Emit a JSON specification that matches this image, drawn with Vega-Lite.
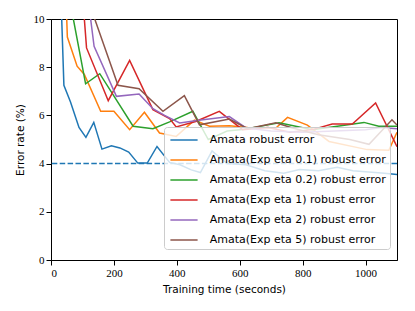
{
  "$schema": "https://vega.github.io/schema/vega-lite/v6.json",
  "autosize": "none",
  "width": 346,
  "height": 241,
  "padding": {"left": 51, "top": 19, "right": 18, "bottom": 51},
  "background": "white",
  "config": {
    "view": {"stroke": "black", "strokeWidth": 1},
    "axis": {
      "grid": false,
      "domainColor": "black",
      "tickColor": "black",
      "tickSize": 5,
      "labelFont": "Liberation Serif",
      "labelFontSize": 11,
      "labelColor": "black",
      "titleFont": "DejaVu Sans",
      "titleFontSize": 10.5,
      "titleFontWeight": "normal",
      "titleColor": "black"
    },
    "legend": {
      "orient": "none",
      "legendX": 113,
      "legendY": 108,
      "padding": 4,
      "fillColor": "rgba(255,255,255,0.8)",
      "strokeColor": "#cccccc",
      "cornerRadius": 3,
      "labelFont": "DejaVu Sans",
      "labelFontSize": 11,
      "labelColor": "black",
      "symbolType": "M-1.7,0L1.7,0",
      "symbolSize": 256,
      "symbolStrokeWidth": 1.5,
      "symbolOffset": 7,
      "labelOffset": 16.7,
      "rowPadding": 6,
      "labelLimit": 300
    }
  },
  "datasets": {
    "runs": [
      {"series": "Amata robust error", "t": 30, "err": 11.6},
      {"series": "Amata robust error", "t": 41, "err": 7.25},
      {"series": "Amata robust error", "t": 62, "err": 6.56},
      {"series": "Amata robust error", "t": 89, "err": 5.5},
      {"series": "Amata robust error", "t": 111, "err": 5.09},
      {"series": "Amata robust error", "t": 136, "err": 5.71},
      {"series": "Amata robust error", "t": 162, "err": 4.6},
      {"series": "Amata robust error", "t": 192, "err": 4.74},
      {"series": "Amata robust error", "t": 219, "err": 4.65},
      {"series": "Amata robust error", "t": 247, "err": 4.48},
      {"series": "Amata robust error", "t": 276, "err": 4.02},
      {"series": "Amata robust error", "t": 306, "err": 4.02},
      {"series": "Amata robust error", "t": 337, "err": 4.71},
      {"series": "Amata robust error", "t": 377, "err": 4.05},
      {"series": "Amata robust error", "t": 410, "err": 3.95},
      {"series": "Amata robust error", "t": 446, "err": 3.74},
      {"series": "Amata robust error", "t": 475, "err": 3.63},
      {"series": "Amata robust error", "t": 512, "err": 4.53},
      {"series": "Amata robust error", "t": 560, "err": 4.0},
      {"series": "Amata robust error", "t": 620, "err": 3.95},
      {"series": "Amata robust error", "t": 680, "err": 3.7},
      {"series": "Amata robust error", "t": 740, "err": 3.6},
      {"series": "Amata robust error", "t": 790, "err": 3.75},
      {"series": "Amata robust error", "t": 850, "err": 3.7},
      {"series": "Amata robust error", "t": 910, "err": 3.85},
      {"series": "Amata robust error", "t": 960, "err": 3.7},
      {"series": "Amata robust error", "t": 1010, "err": 3.65},
      {"series": "Amata robust error", "t": 1060, "err": 3.6},
      {"series": "Amata robust error", "t": 1100, "err": 3.55},

      {"series": "Amata(Exp eta 0.1) robust error", "t": 30, "err": 17.5},
      {"series": "Amata(Exp eta 0.1) robust error", "t": 52, "err": 9.25},
      {"series": "Amata(Exp eta 0.1) robust error", "t": 83, "err": 8.04},
      {"series": "Amata(Exp eta 0.1) robust error", "t": 106, "err": 7.7},
      {"series": "Amata(Exp eta 0.1) robust error", "t": 158, "err": 6.17},
      {"series": "Amata(Exp eta 0.1) robust error", "t": 200, "err": 6.17},
      {"series": "Amata(Exp eta 0.1) robust error", "t": 250, "err": 5.41},
      {"series": "Amata(Exp eta 0.1) robust error", "t": 297, "err": 6.13},
      {"series": "Amata(Exp eta 0.1) robust error", "t": 345, "err": 5.27},
      {"series": "Amata(Exp eta 0.1) robust error", "t": 398, "err": 5.13},
      {"series": "Amata(Exp eta 0.1) robust error", "t": 456, "err": 5.8},
      {"series": "Amata(Exp eta 0.1) robust error", "t": 504, "err": 5.55},
      {"series": "Amata(Exp eta 0.1) robust error", "t": 567, "err": 5.57},
      {"series": "Amata(Exp eta 0.1) robust error", "t": 625, "err": 5.5},
      {"series": "Amata(Exp eta 0.1) robust error", "t": 715, "err": 5.48},
      {"series": "Amata(Exp eta 0.1) robust error", "t": 752, "err": 5.92},
      {"series": "Amata(Exp eta 0.1) robust error", "t": 815, "err": 5.6},
      {"series": "Amata(Exp eta 0.1) robust error", "t": 884, "err": 4.92},
      {"series": "Amata(Exp eta 0.1) robust error", "t": 1005, "err": 4.58},
      {"series": "Amata(Exp eta 0.1) robust error", "t": 1074, "err": 4.55},
      {"series": "Amata(Exp eta 0.1) robust error", "t": 1100, "err": 5.3},

      {"series": "Amata(Exp eta 0.2) robust error", "t": 50, "err": 11.45},
      {"series": "Amata(Exp eta 0.2) robust error", "t": 110, "err": 7.31},
      {"series": "Amata(Exp eta 0.2) robust error", "t": 155, "err": 7.73},
      {"series": "Amata(Exp eta 0.2) robust error", "t": 261, "err": 5.55},
      {"series": "Amata(Exp eta 0.2) robust error", "t": 324, "err": 5.45},
      {"series": "Amata(Exp eta 0.2) robust error", "t": 377, "err": 5.73},
      {"series": "Amata(Exp eta 0.2) robust error", "t": 451, "err": 6.17},
      {"series": "Amata(Exp eta 0.2) robust error", "t": 500, "err": 5.0},
      {"series": "Amata(Exp eta 0.2) robust error", "t": 560, "err": 5.35},
      {"series": "Amata(Exp eta 0.2) robust error", "t": 609, "err": 5.41},
      {"series": "Amata(Exp eta 0.2) robust error", "t": 725, "err": 5.69},
      {"series": "Amata(Exp eta 0.2) robust error", "t": 831, "err": 5.41},
      {"series": "Amata(Exp eta 0.2) robust error", "t": 995, "err": 5.71},
      {"series": "Amata(Exp eta 0.2) robust error", "t": 1042, "err": 5.55},
      {"series": "Amata(Exp eta 0.2) robust error", "t": 1100, "err": 5.55},

      {"series": "Amata(Exp eta 1) robust error", "t": 80, "err": 14.46},
      {"series": "Amata(Exp eta 1) robust error", "t": 113, "err": 8.8},
      {"series": "Amata(Exp eta 1) robust error", "t": 182, "err": 6.61},
      {"series": "Amata(Exp eta 1) robust error", "t": 250, "err": 8.28},
      {"series": "Amata(Exp eta 1) robust error", "t": 324, "err": 6.24},
      {"series": "Amata(Exp eta 1) robust error", "t": 377, "err": 5.87},
      {"series": "Amata(Exp eta 1) robust error", "t": 398, "err": 5.52},
      {"series": "Amata(Exp eta 1) robust error", "t": 460, "err": 5.75},
      {"series": "Amata(Exp eta 1) robust error", "t": 535, "err": 6.17},
      {"series": "Amata(Exp eta 1) robust error", "t": 609, "err": 5.41},
      {"series": "Amata(Exp eta 1) robust error", "t": 690, "err": 5.5},
      {"series": "Amata(Exp eta 1) robust error", "t": 760, "err": 5.3},
      {"series": "Amata(Exp eta 1) robust error", "t": 831, "err": 5.41},
      {"series": "Amata(Exp eta 1) robust error", "t": 894, "err": 5.64},
      {"series": "Amata(Exp eta 1) robust error", "t": 958, "err": 5.64},
      {"series": "Amata(Exp eta 1) robust error", "t": 1032, "err": 6.52},
      {"series": "Amata(Exp eta 1) robust error", "t": 1100, "err": 4.7},

      {"series": "Amata(Exp eta 2) robust error", "t": 100, "err": 12.67},
      {"series": "Amata(Exp eta 2) robust error", "t": 137, "err": 8.87},
      {"series": "Amata(Exp eta 2) robust error", "t": 208, "err": 6.79},
      {"series": "Amata(Exp eta 2) robust error", "t": 280, "err": 6.89},
      {"series": "Amata(Exp eta 2) robust error", "t": 324, "err": 6.28},
      {"series": "Amata(Exp eta 2) robust error", "t": 361, "err": 6.0},
      {"series": "Amata(Exp eta 2) robust error", "t": 409, "err": 5.69},
      {"series": "Amata(Exp eta 2) robust error", "t": 470, "err": 5.8},
      {"series": "Amata(Exp eta 2) robust error", "t": 567, "err": 5.95},
      {"series": "Amata(Exp eta 2) robust error", "t": 620, "err": 5.48},
      {"series": "Amata(Exp eta 2) robust error", "t": 700, "err": 5.35},
      {"series": "Amata(Exp eta 2) robust error", "t": 800, "err": 5.3},
      {"series": "Amata(Exp eta 2) robust error", "t": 900, "err": 5.35},
      {"series": "Amata(Exp eta 2) robust error", "t": 1000, "err": 5.4},
      {"series": "Amata(Exp eta 2) robust error", "t": 1050, "err": 5.5},
      {"series": "Amata(Exp eta 2) robust error", "t": 1100, "err": 5.45},

      {"series": "Amata(Exp eta 5) robust error", "t": 110, "err": 11.08},
      {"series": "Amata(Exp eta 5) robust error", "t": 213, "err": 7.25},
      {"series": "Amata(Exp eta 5) robust error", "t": 280, "err": 7.11},
      {"series": "Amata(Exp eta 5) robust error", "t": 356, "err": 6.17},
      {"series": "Amata(Exp eta 5) robust error", "t": 424, "err": 6.82},
      {"series": "Amata(Exp eta 5) robust error", "t": 472, "err": 5.61},
      {"series": "Amata(Exp eta 5) robust error", "t": 567, "err": 5.85},
      {"series": "Amata(Exp eta 5) robust error", "t": 625, "err": 5.45},
      {"series": "Amata(Exp eta 5) robust error", "t": 715, "err": 5.69},
      {"series": "Amata(Exp eta 5) robust error", "t": 768, "err": 5.48},
      {"series": "Amata(Exp eta 5) robust error", "t": 850, "err": 5.2},
      {"series": "Amata(Exp eta 5) robust error", "t": 950, "err": 5.0},
      {"series": "Amata(Exp eta 5) robust error", "t": 1011, "err": 4.8},
      {"series": "Amata(Exp eta 5) robust error", "t": 1084, "err": 5.82},
      {"series": "Amata(Exp eta 5) robust error", "t": 1100, "err": 5.6}
    ],
    "baseline": [{"level": 4}]
  },
  "layer": [
    {
      "data": {"name": "baseline"},
      "mark": {"type": "rule", "color": "#1f77b4", "strokeWidth": 1.5, "strokeDash": [5.5, 2.4]},
      "encoding": {"y": {"field": "level", "type": "quantitative"}}
    },
    {
      "data": {"name": "runs"},
      "mark": {"type": "line", "strokeWidth": 1.5, "clip": true},
      "encoding": {
        "x": {
          "field": "t", "type": "quantitative",
          "scale": {"domain": [0, 1100], "nice": false},
          "axis": {"values": [0, 200, 400, 600, 800, 1000], "format": "d", "title": "Training time (seconds)", "titlePadding": 6, "labelPadding": 2}
        },
        "y": {
          "field": "err", "type": "quantitative",
          "scale": {"domain": [0, 10], "nice": false},
          "axis": {"values": [0, 2, 4, 6, 8, 10], "format": "d", "title": "Error rate (%)", "titlePadding": 8, "labelPadding": 2}
        },
        "color": {
          "field": "series", "type": "nominal",
          "scale": {
            "domain": ["Amata robust error", "Amata(Exp eta 0.1) robust error", "Amata(Exp eta 0.2) robust error", "Amata(Exp eta 1) robust error", "Amata(Exp eta 2) robust error", "Amata(Exp eta 5) robust error"],
            "range": ["#1f77b4", "#ff7f0e", "#2ca02c", "#d62728", "#9467bd", "#8c564b"]
          },
          "legend": {"title": null}
        },
        "order": {"field": "t", "type": "quantitative"}
      }
    }
  ]
}
